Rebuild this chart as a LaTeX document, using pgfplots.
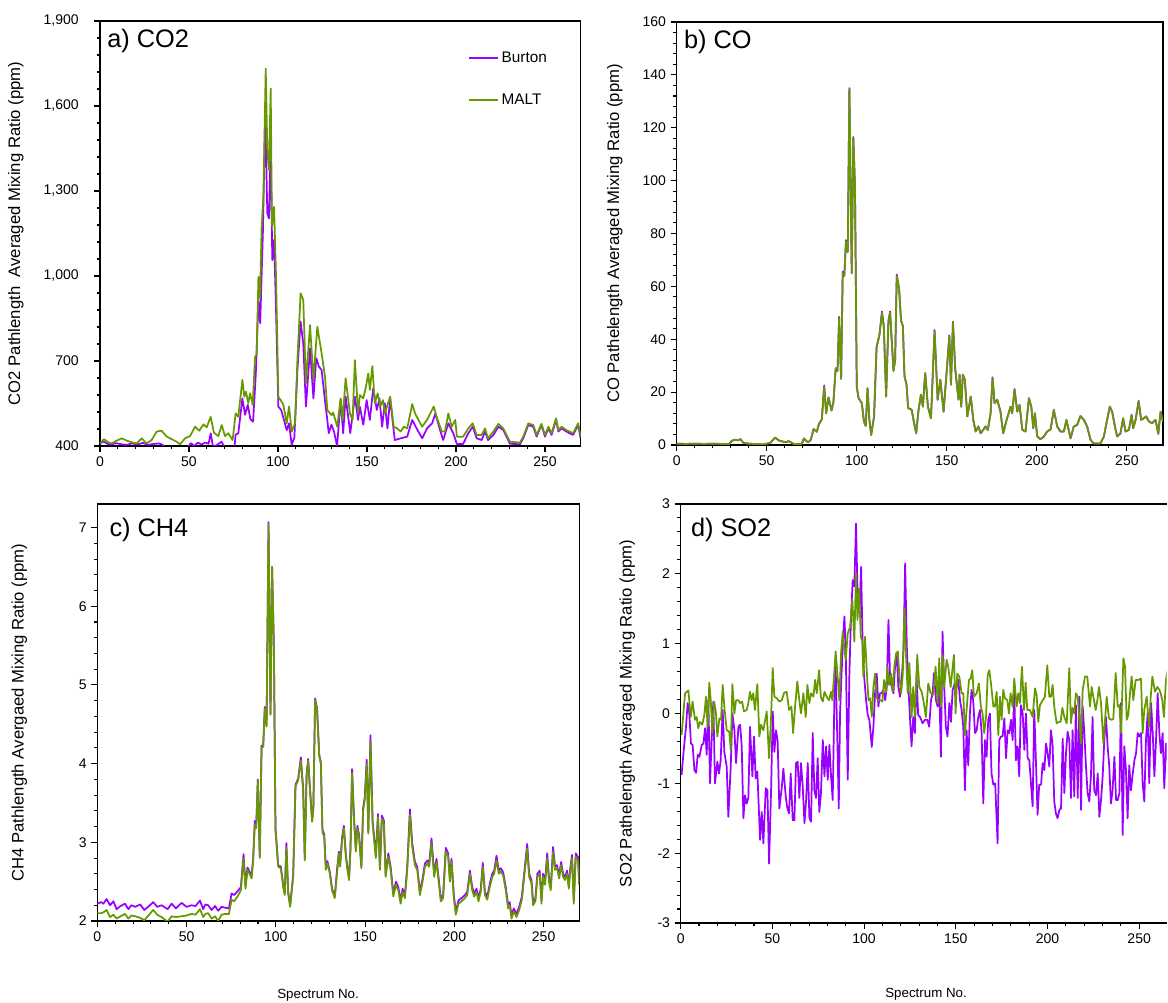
\documentclass[border=0pt]{standalone}
\usepackage{fontspec}
\setmainfont{Liberation Sans}
\usepackage{pgfplots}
\pgfplotsset{compat=1.18}
\usepackage{pgfplotstable}
\definecolor{burton}{RGB}{153,0,255}
\definecolor{malt}{RGB}{102,153,0}

% ---------------- Panel a: CO2 ----------------
\pgfplotstableread{
x y
0 409
2.2 424
4.7 413
6.6 409
9.4 419
12.2 427
15 419
17.8 413
20.6 409
23.4 427
26.2 409
29 421
31.8 451
34.6 454
37.5 433
40.3 424
43.1 415
44.9 406
47.8 427
50.6 435
53.4 468
55.8 454
58.1 476
59.9 466
62.2 503
64 447
66.5 435
68.4 474
70.2 435
72.1 445
74.5 421
76.2 515
77.7 503
80 633
81.1 574
82 592
83.3 551
84.3 586
85.8 545
87.1 715
88 721
89 997
89.9 921
90.8 1174
91.8 1280
93.1 1732
94 1444
94.9 1374
95.9 1662
96.6 1174
97.8 1244
98.9 997
100.2 574
101.5 562
103 545
104.9 480
106.2 539
107.7 451
109.6 480
110.9 703
112.7 939
114.2 915
115.7 621
118 827
119.9 633
122.1 821
124.5 727
126.4 645
127.7 527
130.1 509
131 518
133.3 468
135.2 568
136.3 492
138 639
140.4 515
141.9 492
143.2 703
145 515
146 580
147.9 568
149.4 609
150.7 656
151.6 598
153 682
154.4 551
156 586
157.4 539
159 562
160 515
163 574
165 468
167 462
168.9 451
170.7 468
172.6 462
175.4 548
177 515
178.9 492
181 468
183.7 492
187.5 539
189.4 498
192 451
193.8 451
195.7 515
197.6 468
199.6 492
200.5 433
204 433
206.9 462
209.4 480
211.6 439
214.4 439
216.3 462
218 427
221 451
223.8 478
226.6 462
230.3 415
235.9 412
237.8 433
240.6 480
243.4 474
245.3 439
248 478
250 439
251.9 468
253.7 445
256.2 498
257.5 456
259.3 468
262 456
263.8 451
265.8 445
268.6 480
270 433
}\cotwomalt

\pgfplotstableread{
x y
0 408
2 416
4 408
6 405
9 410
12 406
15 404
18 409
21 405
24 411
27 404
30 407
33 409
35 405
37 392
40 385
45 380
49 392
51 410
53 400
55 412
57 405
59 412
61 408
62.2 445
63.5 395
66 405
68.3 415
70 395
74 390
75.5 392
76.2 440
77.7 445
80 568
81.5 510
83 545
84.5 495
86 486
87.5 650
89 915
90 833
91.5 1150
92.8 1580
94 1221
94.9 1203
95.9 1450
96.8 1056
97.8 1127
98.9 880
100.2 539
101.8 527
103 500
104.9 456
106.2 480
107.7 404
109.2 430
110.9 668
112.7 839
114.2 760
115.7 539
118 745
119.9 568
121.5 710
123 680
124.5 668
126.4 560
127.7 492
128.5 445
130 475
131.5 450
133.2 400
135.2 563
136.6 445
138 574
140.6 445
143.2 574
145 492
146 539
147.9 475
149.8 562
151.6 492
153.5 604
155.5 527
157 568
158.5 468
160 551
161.5 462
163 568
165.6 421
168.9 427
172.6 433
175.4 492
178.3 457
181 427
183.7 462
186.6 480
188.4 515
191 457
192.8 421
195.7 480
198.5 445
200.5 407
204 407
206.9 445
209.4 468
211.6 427
214.4 421
216.3 451
218 421
221 439
223.8 468
226.6 456
230.3 408
235.9 406
237.8 427
240.6 474
243.4 468
245.3 433
248 474
250 433
251.9 462
253.7 439
256.2 492
257.5 451
259.3 462
262 451
263.8 445
265.8 439
268.6 474
270 427
}\cotwoburton

% ---------------- Panel b: CO ----------------
\pgfplotstableread{
x burton malt
0 0.5 0.5
5 0.4 0.4
10 0.5 0.5
15 0.4 0.4
20 0.5 0.5
25 0.4 0.4
29 0.3 0.3
30.5 1.5 1.5
32 2.0 2.0
34 1.8 1.8
35.5 2.2 2.2
37 0.8 0.8
40 0.5 0.5
45 0.3 0.3
48 0.2 0.2
50 0.5 0.5
52 0.8 0.8
54.6 2.8 2.8
57 1.6 1.6
59 1.3 1.3
61 1.0 1.0
62 1.5 1.5
65 0.4 0.4
69.4 0.4 0.4
70.7 2.5 2.5
72 1.5 1.5
73 1.0 1.0
74.5 2.0 2.0
76 6.0 6.0
77.8 5.0 5.0
79 8 8
80.6 9.7 9.7
81.9 22.5 22
83 12 12
84.3 18 18
86 13 13
87 16 16
88.3 29 29
89.3 28 28
90.2 48.5 48
91.3 25 25
92.2 65.5 65
93.1 64 64
94 77.5 77
95 73 73
95.9 135 134.6
97.2 65 65
98.1 116.5 116
99 98 98
100 22 22
101 17.7 17.7
102.8 15.8 15.8
104 8.8 8.8
105 7.2 7.2
106 21.5 21.5
107 9.5 9.5
108 3.8 3.8
109.6 10.7 10.7
111 37 37
112.6 41.7 41.7
114 50.5 50
115 45 45
116.3 18.3 18.3
117.6 47 47
118.5 50.5 50
120.4 28 28
121.3 32 32
122.2 64.5 64
123.5 59 59
124.6 47 47
125.6 45 45
126.5 26 26
127.6 23 23
128.5 14 14
130.5 13.3 13.3
131.5 9.5 9.5
133 4.4 4.4
134.3 13.3 13.3
135.6 19.0 19.0
136.7 14.5 14.5
138 27.2 27.2
139.5 14.5 14.5
141.2 10.1 10.1
143.2 43.5 43
144.9 17.1 17.1
146.4 24.7 24.7
148.2 12.6 12.6
149.7 25.9 25.9
151.4 41.5 41.1
152.3 22.8 22.8
153.4 46.6 46.2
154.7 28.5 28.5
156.5 17.1 17.1
157.1 26.6 26.6
158 14.5 14.5
158.9 26.6 26.6
160 24.7 24.7
161.4 10.8 10.8
163.3 18.3 18.3
164.7 9.5 9.5
166 5.1 5.1
167.5 7.0 7.0
168.8 4.4 4.4
170.2 5.7 5.7
171.5 7.0 7.0
172.8 5.7 5.7
174.3 12.0 12.0
175.4 25.6 25.3
176.5 15.8 15.8
178 17.1 17.1
179.8 12.6 12.6
181.3 4.4 4.4
183.2 9.5 9.5
185.4 14.5 14.5
186.3 12.0 12.0
187.6 21.2 20.9
189.1 12.6 12.6
190.4 15.2 15.2
191.9 5.7 5.7
193.7 5.1 5.1
195.6 17.7 17.7
196.9 14.5 14.5
198 6.3 6.3
198.9 12.0 12.0
200.2 3.2 3.2
202 2.2 2.2
203.9 3.2 3.2
205.7 5.1 5.1
207.6 5.9 5.9
209.4 13.3 13.3
211.3 7.0 7.0
213.1 5.1 5.1
215 5.1 5.1
216.4 9.5 9.5
218.7 2.5 2.5
220.5 7.0 7.0
222.4 7.6 7.6
224.2 11.0 11.0
226.1 9.5 9.5
227.9 7.0 7.0
229.8 1.9 1.9
231.6 0.6 0.6
235.3 0.6 0.6
237.2 3.2 3.2
239 9.5 9.5
240.5 14.5 14.5
241.8 12.6 12.6
243.7 5.7 5.7
244.6 3.2 3.2
246.4 4.4 4.4
247.9 10.1 10.1
249.2 5.1 5.1
251.1 5.7 5.7
252.6 11.4 11.4
253.5 6.3 6.3
254.8 9.5 9.5
256.5 16.7 16.4
257.9 9.5 9.5
259.4 10.1 10.1
260.7 10.8 10.8
262.2 8.9 8.9
264 8.2 8.2
265.9 9.5 9.5
267.4 4.2 4.2
268.7 12.6 12.6
270 8.9 8.9
}\cotab

% ---------------- Panel c: CH4 ----------------
\pgfplotstableread{
x burton malt
0 2.22 2.10
2.2 2.24 2.10
3.4 2.22 2.11
5.2 2.28 2.14
7.1 2.20 2.05
9 2.25 2.08
10.8 2.15 2.03
13 2.19 2.06
15.5 2.22 2.09
17.4 2.15 2.03
19 2.20 2.07
21.2 2.18 2.06
24 2.21 2.04
26.3 2.14 2.01
29 2.19 2.08
31.3 2.24 2.14
33.5 2.18 2.08
36 2.20 2.05
39.4 2.15 1.99
41.6 2.22 2.06
44 2.16 2.05
47.2 2.23 2.06
50 2.18 2.07
52.8 2.20 2.09
55 2.19 2.08
57.5 2.26 2.15
59.3 2.15 2.05
60.5 2.21 2.09
62.1 2.20 2.10
64 2.14 2.03
66 2.19 2.06
67.7 2.13 2.00
69.6 2.18 2.08
71.5 2.17 2.09
73.7 2.16 2.09
75.2 2.35 2.27
76.7 2.33 2.25
79 2.39 2.33
80.4 2.43 2.39
81.9 2.85 2.80
83 2.45 2.41
84.1 2.68 2.65
85 2.64 2.61
86.4 2.57 2.54
87.3 2.80 2.77
88.2 3.27 3.22
89 3.20 3.18
89.9 3.80 3.79
91 2.82 2.80
92 4.23 4.21
92.9 4.22 4.21
93.8 4.72 4.70
94.8 4.48 4.47
95.9 7.07 7.05
97 4.63 4.62
97.9 6.50 6.50
98.9 5.49 5.48
99.8 3.18 3.16
101.3 2.71 2.69
102.8 2.69 2.67
104.1 2.46 2.44
105 2.35 2.33
105.9 2.99 2.94
106.9 2.37 2.35
108 2.20 2.18
109.7 2.58 2.56
111 3.73 3.71
112.5 3.81 3.79
114 4.08 4.04
115.3 3.68 3.66
116.2 2.79 2.77
117.2 3.85 3.83
118.1 4.06 4.04
119 3.73 3.71
120.3 3.28 3.26
121 3.43 3.41
122 4.83 4.81
123.1 4.70 4.68
124.3 4.11 4.09
125.2 4.02 4.00
126.1 3.16 3.13
127.1 3.10 3.07
128 2.67 2.65
128.9 2.76 2.73
130.2 2.63 2.61
131.5 2.41 2.39
133 2.31 2.29
134.3 2.66 2.61
135.3 2.88 2.86
136 2.72 2.69
137.1 3.06 3.03
138.1 3.21 3.18
139.2 2.84 2.82
140.1 2.68 2.65
141 2.55 2.52
141.8 2.93 2.90
142.7 3.93 3.88
143.8 3.31 3.28
144.8 2.91 2.88
145.7 3.21 3.18
146.6 3.10 3.07
147.9 2.70 2.67
148.9 3.44 3.41
149.8 3.57 3.54
150.9 4.05 4.00
151.8 3.14 3.11
153 4.36 4.28
154.2 3.28 3.24
156 2.83 2.80
157.2 3.36 3.32
158.3 2.69 2.65
159.4 3.34 3.30
160.5 3.28 3.24
161.5 2.60 2.56
163 2.86 2.82
164.3 2.69 2.65
165.8 2.35 2.31
167.3 2.50 2.46
168.6 2.43 2.39
169.9 2.26 2.22
171 2.41 2.37
172.3 2.33 2.29
173.6 2.69 2.65
175.1 3.42 3.35
176.4 2.99 2.94
177.9 2.75 2.71
179.2 2.69 2.65
180.7 2.37 2.33
182.2 2.54 2.50
183.5 2.73 2.69
185 2.77 2.73
185.9 2.73 2.69
187.2 3.05 2.99
188.7 2.60 2.56
190 2.79 2.75
191.3 2.52 2.48
192.4 2.29 2.25
193.7 2.33 2.29
195.2 2.93 2.88
196.5 2.86 2.82
197.5 2.54 2.50
198.4 2.79 2.75
199.7 2.33 2.29
200.8 2.12 2.08
202.3 2.26 2.22
204 2.29 2.25
205.9 2.33 2.29
207.2 2.37 2.33
208.7 2.64 2.60
210 2.43 2.39
211.1 2.35 2.31
212.4 2.41 2.37
213.5 2.29 2.25
214.8 2.41 2.37
215.9 2.74 2.69
217.1 2.37 2.33
218.4 2.31 2.27
219.9 2.48 2.44
221.2 2.60 2.56
222.3 2.64 2.60
223.6 2.83 2.77
224.9 2.64 2.60
226 2.67 2.63
227.3 2.62 2.58
228.8 2.43 2.39
230.1 2.20 2.16
231 2.24 2.20
232 2.07 2.03
233.3 2.16 2.12
234.8 2.09 2.05
236.3 2.18 2.14
237.8 2.31 2.27
239.1 2.60 2.56
240.8 2.98 2.92
241.9 2.60 2.56
243.2 2.52 2.48
244.1 2.24 2.20
245.4 2.29 2.25
246.5 2.60 2.56
247.8 2.64 2.60
248.8 2.26 2.22
249.7 2.60 2.56
250.8 2.50 2.46
252 2.86 2.80
253.1 2.52 2.48
254 2.43 2.39
255.3 2.94 2.88
256.4 2.69 2.65
257.5 2.71 2.67
258.7 2.58 2.54
259.8 2.75 2.71
260.9 2.60 2.56
262 2.56 2.52
263.1 2.64 2.60
264.1 2.45 2.41
265 2.69 2.65
265.9 2.84 2.80
266.9 2.26 2.22
268 2.86 2.82
269.3 2.81 2.77
269.9 2.50 2.46
}\chtab

% ---------------- Panel d: SO2 ----------------
\pgfplotstableread{
x y
0.5 -0.31
2.4 0.29
4.2 0.33
5.5 -0.05
6.5 0.17
7.8 -0.09
8.7 -0.05
9.6 -0.21
10.5 -0.12
11.8 -0.16
12.9 -0.02
13.8 0.24
14.7 -0.19
15.6 0.44
16.4 0.19
17.3 -0.28
18.2 0.17
19.1 0.05
20 -0.33
21.1 -0.07
22 -0.09
22.9 0.41
23.8 0.10
25.1 -0.24
26.5 -0.26
27.3 -0.52
28.2 0.42
29.3 0.00
30.2 0.19
31.5 0.19
32.4 0.15
33.5 0.17
34.5 0.03
36 0.05
36.9 0.15
37.8 0.31
38.7 0.19
39.6 0.29
40.5 0.05
41.8 0.42
42.9 -0.33
43.8 -0.16
45.1 -0.24
46.9 0.03
48.2 -0.64
49.3 -0.05
50.2 0.65
51.1 0.24
52.4 0.22
53.8 0.17
55.1 0.19
56.5 0.30
57.8 0.31
59.1 0.05
60.4 0.10
61.3 -0.28
62.4 0.10
63.6 0.46
64.7 0.19
65.6 0.00
66.9 0.29
68.2 -0.05
69.1 0.41
70.2 0.15
71.1 0.29
72.4 0.24
73.3 0.48
74.2 0.29
75.5 0.62
76.4 0.24
77.5 0.17
78.4 0.31
79.6 0.24
80.9 0.19
82 0.31
82.7 0.19
83.6 0.53
84.5 0.89
85.6 0.53
86.5 0.19
87.5 0.89
88.4 1.17
89.1 0.96
90 0.77
91.1 1.15
92.4 1.24
93.6 1.63
94.7 1.03
95.6 2.01
96.4 1.34
97.3 1.79
98.2 1.10
99.1 1.03
99.6 0.53
100.5 1.10
101.5 0.60
102.4 0.19
103.3 0.22
104.2 -0.05
105.1 0.38
106 0.57
106.9 0.22
107.8 0.19
109.1 0.19
110 0.17
110.9 0.48
112 0.31
112.7 0.67
113.6 0.41
114.7 0.57
115.6 0.31
116.5 0.67
117.5 0.86
118.4 0.89
119.3 0.53
120.2 0.29
121.1 0.55
122 1.51
122.9 0.81
123.8 0.29
124.7 0.72
125.9 -0.05
126.8 0.38
127.7 -0.05
129 0.84
130.1 0.38
131.4 0.31
132.6 0.15
133.7 -0.05
135 0.43
136.3 0.29
137.7 0.27
139 0.67
140.1 0.15
141 0.79
141.9 0.10
142.8 0.84
143.7 0.38
145 0.77
145.9 0.67
147.2 0.38
149 0.84
149.9 0.00
150.8 0.57
151.9 0.53
153.2 0.29
154.1 0.29
155 -0.31
155.9 0.05
157.2 0.48
158.1 0.50
159 0.62
159.9 0.24
161.4 0.29
162.6 0.43
163.7 0.10
164.6 0.00
165.5 -0.28
166.5 -0.05
167.4 0.55
168.3 0.62
169.2 0.43
170.5 0.10
171.4 0.10
172.3 0.31
173.2 -0.31
174.1 0.24
175 -0.09
175.9 0.34
176.8 0.22
178.1 0.19
179 0.00
179.9 0.29
181 0.10
181.9 0.50
183.2 0.10
184.1 0.29
185 0.15
186.1 0.67
187.2 0.05
188.1 0.44
189 0.05
190.5 0.05
191.9 -0.05
193.2 0.36
194.1 0.26
195 -0.12
195.9 0.12
197.4 0.19
198.6 0.24
199.9 0.69
201 0.24
201.9 0.24
202.8 0.41
203.7 0.10
205 -0.14
206.3 -0.12
207.2 -0.12
208.1 0.08
209.2 -0.05
210.5 -0.14
211.9 0.65
212.8 -0.14
213.7 0.08
214.6 0.00
215.5 0.29
216.5 0.24
217.4 -0.09
218.3 -0.43
219.2 0.34
220.5 0.53
221.7 0.53
223.2 0.10
224.1 0.38
225 0.24
226.3 0.05
227.2 0.19
228.1 0.38
229.2 0.15
230.5 -0.43
231.4 -0.09
232.3 0.24
233.5 -0.07
235 -0.09
235.9 -0.08
237.2 0.58
238.3 0.10
239.2 0.12
240.1 -0.28
241.4 0.79
242.3 0.67
243.2 -0.09
244.1 -0.02
245 0.29
245.9 0.53
246.8 0.19
248.1 0.48
249.5 0.48
251 0.50
251.9 -0.28
252.8 0.05
254.1 0.24
255.4 -0.19
256.3 0.24
257.2 0.53
258.6 0.31
259.9 0.38
261 0.34
261.7 0.29
262.6 0.19
263.5 -0.05
264.6 0.48
265.7 0.65
}\somalt

\pgfplotstableread{
x y
0.5 -0.88
1.5 -0.57
2.9 -0.19
3.8 0.15
4.7 0.00
5.6 -0.43
6.5 -0.45
7.5 -0.81
8.4 -0.85
9.3 -0.59
10.2 -0.62
11.5 -0.45
12.4 -0.43
13.3 -0.21
14.2 -0.59
15.1 0.19
16 -1.00
16.9 -0.38
17.8 0.17
18.7 -1.00
20 -0.69
20.9 -0.86
21.8 -0.67
22.9 0.05
23.8 -0.55
25.1 -0.76
26 -1.48
27.3 -0.76
28.2 0.00
29.3 -0.24
30.2 -0.71
31.5 -0.19
32.4 -0.16
33.3 -0.47
34.2 -1.50
35.1 -1.17
36 -1.29
36.9 -1.21
37.8 -0.19
39.1 -0.90
40 -0.33
40.9 -0.93
41.8 -0.83
43.3 -1.81
44.2 -1.41
45.1 -1.86
46.4 -1.07
47.3 -1.10
48.2 -2.15
49.3 -1.10
50.2 0.03
51.1 -0.55
52 -0.24
52.9 -0.40
53.8 -1.36
55.1 -1.07
56 -0.79
57.3 -1.19
58.2 -1.36
59.1 -1.43
60 -0.86
61.1 -1.53
62 -1.53
62.9 -0.71
63.8 -0.69
64.7 -1.21
65.6 -0.71
66.5 -1.02
67.5 -1.57
68.4 -1.24
69.3 -0.71
70.2 -1.50
71.1 -1.55
72 -0.28
72.9 -1.10
73.8 -1.21
74.7 -0.64
75.6 -1.41
76.5 -1.14
77.5 -0.38
78.4 -0.90
79.3 -0.47
80.2 -0.95
81.1 -0.45
82 -0.90
82.9 -1.24
83.8 0.19
84.5 0.67
85.5 -0.47
86.2 -1.36
86.9 0.00
87.8 0.62
88.7 1.15
89.3 1.39
90 0.91
91.1 -0.95
92 0.57
92.9 1.39
93.8 1.91
94.7 1.82
95.6 2.72
96.5 1.67
97.5 1.43
98.4 2.10
99.3 0.86
100.2 0.48
101.1 0.19
102 -0.02
102.9 -0.09
104.2 -0.48
105.1 -0.19
106 0.29
106.9 0.57
107.8 0.10
108.7 0.29
109.6 0.29
110.5 0.34
111.5 0.19
112.4 0.38
113.3 1.34
114.2 0.48
115.1 0.38
116 0.29
116.9 0.67
117.8 0.86
118.7 0.38
119.6 0.24
120.5 0.48
121.5 0.91
122.4 2.15
123.3 0.96
124.2 0.36
125 -0.05
125.9 -0.47
126.8 -0.05
127.7 -0.28
128.6 0.53
129.5 -0.02
130.5 -0.05
131.9 -0.14
133.2 -0.09
134.5 -0.09
135.5 -0.19
136.5 0.19
137.4 0.29
138.1 0.58
139.2 0.19
140.1 0.10
141 0.38
141.9 -0.62
142.8 1.17
143.7 0.38
144.6 -0.19
145.5 -0.33
146.5 0.15
147.4 -0.12
148.3 0.34
149.5 0.43
150.5 0.38
151.4 0.48
152.3 0.19
153.2 0.05
154.1 -0.19
155 -1.10
155.9 -0.24
156.8 -0.74
157.7 0.00
158.6 0.34
159.5 0.19
160.5 -0.28
161.4 -0.24
162.3 -0.05
163.2 0.05
164.1 -0.28
165 -1.29
165.9 -0.38
166.8 -0.62
167.7 -0.09
168.6 0.00
169.5 -0.86
170.5 -1.02
171.5 -1.00
172.8 -1.86
173.7 -0.38
174.6 -0.33
175.5 -0.33
176.5 -0.07
177.4 -0.64
178.3 -0.24
179.2 -0.28
180.1 -0.09
181 -0.38
181.9 0.29
182.8 -0.67
183.7 -0.47
184.6 -0.90
185.5 0.12
186.5 0.00
187.4 -0.52
188.3 0.00
189.2 -0.64
190.1 -0.67
191 -1.00
191.9 -1.33
192.8 0.05
193.7 -0.67
194.6 -1.45
195.5 -1.02
196.5 -1.02
197.4 -0.71
198.3 -0.81
199.2 -0.43
200.1 -0.57
201 -0.76
201.9 -0.24
202.8 -0.45
203.7 -1.26
204.6 -1.43
205.5 -1.50
206.5 -1.38
207.4 -1.36
208.3 -0.36
209.2 -1.14
210.1 -0.57
211 -0.26
211.9 -0.38
212.8 -1.21
213.7 -0.24
214.6 -1.19
215.5 0.12
216.5 -1.21
217.4 0.24
218.3 -1.38
219.2 0.10
220.1 -0.28
221 -0.76
221.9 -1.14
222.8 -1.26
223.7 -0.90
224.6 -0.05
225.5 -1.10
226.5 -1.17
227.4 -0.86
228.3 -1.48
229.2 -1.24
230.1 -0.90
231 -0.38
231.9 -0.05
232.8 -0.47
233.7 -0.76
234.6 -1.29
235.5 -1.10
236.5 -0.62
237.4 -1.24
238.3 -1.24
239.2 -1.14
240.1 0.15
241 -1.74
241.9 -0.47
242.8 -0.81
243.7 -1.50
244.6 -0.74
245.5 -1.10
246.5 -0.86
247.4 -0.67
248.3 -0.57
249.2 -0.28
250.1 -0.33
251 -0.28
251.9 -1.00
252.8 -1.26
253.7 -0.38
254.6 0.00
255.5 -1.00
256.5 0.15
257.4 -0.28
258.3 -0.90
259.2 -0.38
260.1 0.29
261 -0.28
261.9 -0.57
262.8 -0.28
263.7 -1.07
264.6 -0.43
265.7 -0.76
}\soburton

\pgfplotsset{
  panel/.style={
    scale only axis,
    anchor=south west,
    axis line style={line width=1.2pt, black},
    tick style={black, line width=0.8pt},
    tick align=outside,
    major tick length=4.5pt,
    minor tick length=2.6pt,
    tick pos=left,
    xmin=0, xmax=270,
    xtick={0,50,...,250},
    minor x tick num=4,
    minor y tick num=4,
    tick label style={font=\fontsize{10.5}{12}\selectfont},
    /pgf/number format/assume math mode=true,
    ylabel style={font=\fontsize{12.5}{14}\selectfont, anchor=center},
    xlabel style={font=\fontsize{10}{12}\selectfont, anchor=center},
    every axis plot/.append style={line width=1.3pt, line join=round},
    clip=true,
  },
}
\tikzset{title node/.style={anchor=north west, font=\fontsize{19}{22}\selectfont, inner sep=1pt}}

\begin{document}
\begin{tikzpicture}
% Panel a
\begin{axis}[panel,
  at={(75pt,417.75pt)}, width=360.45pt, height=318.75pt,
  ymin=400, ymax=1900, ytick={400,700,...,1900},
  /pgf/number format/1000 sep={,},
  yticklabel style={xshift=-8pt},
  ylabel={CO2 Pathlength\ \ Averaged Mixing Ratio (ppm)},
  ylabel style={at={(axis description cs:-0.175,0.5)}},
  legend style={draw=none, fill=none, at={(rel axis cs:0.765,0.934)}, anchor=north west,
    font=\fontsize{11.5}{13}\selectfont, row sep=18pt, inner sep=0pt},
  legend cell align=left,
  legend image code/.code={\draw[#1, line width=1.3pt] (0pt,0pt) -- (22pt,0pt);},
]
\addplot[burton] table[x=x,y=y] {\cotwoburton};
\addplot[malt] table[x=x,y=y] {\cotwomalt};
\legend{Burton, MALT}
\node[title node] at (rel axis cs:0.012,0.985) {a) CO2};
\end{axis}

% Panel b
\begin{axis}[panel,
  at={(507.5pt,418.5pt)}, width=364.7pt, height=317.25pt,
  ymin=0, ymax=160, ytick={0,20,...,160},
  ylabel={CO Pathelength Averaged Mixing Ratio (ppm)},
  ylabel style={at={(axis description cs:-0.127,0.5)}},
]
\addplot[burton] table[x=x,y=burton] {\cotab};
\addplot[malt] table[x=x,y=malt] {\cotab};
\node[title node] at (rel axis cs:0.012,0.985) {b) CO};
\end{axis}

% Panel c
\begin{axis}[panel,
  at={(73pt,61.5pt)}, width=361.5pt, height=312.75pt,
  ymin=2, ymax=7.3, ytick={2,3,...,7},
  ylabel={CH4 Pathlength Avergaed Mixing Ratio (ppm)},
  ylabel style={at={(axis description cs:-0.162,0.5)}},
  xlabel={Spectrum No.},
  xlabel style={at={(axis description cs:0.458,-0.177)}},
]
\addplot[burton] table[x=x,y=burton] {\chtab};
\addplot[malt] table[x=x,y=malt] {\chtab};
\node[title node] at (rel axis cs:0.022,0.97) {c) CH4};
\end{axis}

% Panel d
\begin{axis}[panel,
  at={(510.5pt,60pt)}, width=364.5pt, height=314.25pt,
  xmax=265,
  axis x line*=box, axis y line*=left,
  x axis line style={-}, y axis line style={-},
  tick pos=left,
  ymin=-3, ymax=3, ytick={-3,-2,...,3},
  ylabel={SO2 Pathelength Averaged Mixing Ratio (ppm)},
  ylabel style={at={(axis description cs:-0.11,0.5)}},
  xlabel={Spectrum No.},
  xlabel style={at={(axis description cs:0.505,-0.17)}},
]
\addplot[burton] table[x=x,y=y] {\soburton};
\addplot[malt] table[x=x,y=y] {\somalt};
\node[title node] at (rel axis cs:0.018,0.97) {d) SO2};
\end{axis}

\pgfresetboundingbox
\path[use as bounding box] (0pt,0pt) rectangle (876pt,752.25pt);
\end{tikzpicture}
\end{document}
